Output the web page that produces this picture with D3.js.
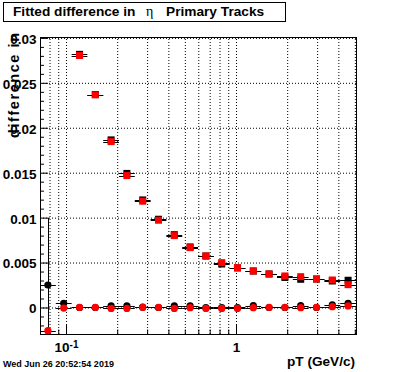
<!DOCTYPE html>
<html>
<head>
<meta charset="utf-8">
<script src="https://cdn.jsdelivr.net/npm/d3@7"></script>
<style>
  body { margin: 0; background: #fff; }
  svg { display: block; font-family: "Liberation Sans", Arial, Helvetica, sans-serif; }
</style>
</head>
<body>
<script>
'use strict';

// bin edges and bin centres in pT (GeV/c)
const binEdges = [0.0703, 0.0871, 0.1079, 0.1336, 0.1655, 0.2050, 0.2539, 0.3145, 0.3895, 0.4825,
    0.5976, 0.7402, 0.9168, 1.1356, 1.4066, 1.7422, 2.158, 2.673, 3.311, 4.101, 5.08];
const ptCenters = [0.0782, 0.0969, 0.1201, 0.1487, 0.1842, 0.2281, 0.2826, 0.350, 0.4335, 0.537,
    0.665, 0.824, 1.020, 1.264, 1.565, 1.939, 2.402, 2.975, 3.685, 4.564];

// upper pair (squares)
const blackSquares = [null, null, 0.02817, 0.0237, 0.01865, 0.01492, 0.01197, 0.00982, 0.0081, 0.00674,
    0.00573, 0.00484, 0.0044, 0.00406, 0.00373, 0.00334, 0.00314, 0.00317, 0.00295, 0.00303];
const redSquares = [null, null, 0.02804, 0.02366, 0.01846, 0.01468, 0.01183, 0.00971, 0.0080, 0.00666,
    0.00573, 0.00499, 0.00443, 0.00406, 0.00373, 0.00351, 0.00343, 0.00317, 0.00306, 0.00254];

// lower pair (circles)
const blackCircles = [0.0025, 0.00047, 0.0, 0.0, 0.00017, 0.00017, 0.00003, 0.0, 0.00017, 0.00017,
    0.0, 0.0, 0.0, 0.0002, 0.0, 0.0, 0.0002, 0.0, 0.00028, 0.00047];
const blackCircleErr = [0.0075, 0, 0, 0, 0, 0, 0, 0, 0, 0, 0, 0, 0, 0, 0, 0, 0, 0, 0, 0];
const redCircles = [-0.00258, -0.00006, 0.00002, 0.00002, -0.0001, -0.0001, 0.00002, 0.00002, -0.0001, -0.00002,
    -0.0001, -0.0001, -0.0001, -0.00002, 0.00002, 0.00002, -0.00002, 0.00002, 0.00009, 0.00017];

// ticks
const yMajorTicks = [0, 0.005, 0.01, 0.015, 0.02, 0.025, 0.03];
const yTickLabels = ["0", "0.005", "0.01", "0.015", "0.02", "0.025", "0.03"];
const xMajorTicks = [0.1, 1];
const xMinorTicks = [0.08, 0.09, 0.2, 0.3, 0.4, 0.5, 0.6, 0.7, 0.8, 0.9, 2, 3, 4, 5];

const width = 396;
const height = 372;
const frame = { left: 40, right: 356, top: 37, bottom: 334 };
const labelFont = "bold 13.5px 'Liberation Sans', Arial, sans-serif";

const svg = d3.select('body').append('svg')
    .attr('width', width)
    .attr('height', height);

svg.append('rect')
    .attr('width', width)
    .attr('height', height)
    .attr('fill', '#fff');

const xScale = d3.scaleLog()
    .domain([binEdges[0], binEdges[binEdges.length - 1]])
    .range([frame.left, frame.right]);

const yScale = d3.scaleLinear()
    .domain([-0.00295, 0.0301])
    .range([frame.bottom, frame.top]);

// dotted grid
let gx = svg.append('g')
    .attr('transform', `translate(0, ${frame.bottom})`)
    .call(d3.axisBottom(xScale)
        .tickValues(xMajorTicks.concat(xMinorTicks))
        .tickSize(-(frame.bottom - frame.top))
        .tickFormat(''));
let gy = svg.append('g')
    .attr('transform', `translate(${frame.left}, 0)`)
    .call(d3.axisLeft(yScale)
        .tickValues(yMajorTicks)
        .tickSize(-(frame.right - frame.left))
        .tickFormat(''));
[gx, gy].forEach((g) => {
    g.select('.domain').remove();
    g.selectAll('line')
        .attr('stroke', '#000')
        .attr('stroke-dasharray', '1,2');
});

// y axis: minor then major ticks, pointing into the frame
let yMinor = svg.append('g')
    .attr('transform', `translate(${frame.left}, 0)`)
    .call(d3.axisLeft(yScale)
        .tickValues(d3.range(-0.002, 0.0305, 0.001).filter((v) => Math.abs(v * 200 - Math.round(v * 200)) > 1e-6))
        .tickSize(-4)
        .tickFormat(''));
yMinor.select('.domain').remove();

let yAxis = svg.append('g')
    .attr('transform', `translate(${frame.left}, 0)`)
    .call(d3.axisLeft(yScale)
        .tickValues(yMajorTicks)
        .tickSizeInner(-8)
        .tickSizeOuter(0)
        .tickPadding(3.5)
        .tickFormat((d, i) => yTickLabels[i]));
yAxis.select('.domain').remove();
yAxis.selectAll('text')
    .style('font', labelFont)
    .attr('fill', '#000')
    .attr('dy', '0.4em');

// x axis (log): minor then major ticks
let xMinor = svg.append('g')
    .attr('transform', `translate(0, ${frame.bottom})`)
    .call(d3.axisBottom(xScale)
        .tickValues(xMinorTicks)
        .tickSize(-4.5)
        .tickFormat(''));
xMinor.select('.domain').remove();

let xAxis = svg.append('g')
    .attr('transform', `translate(0, ${frame.bottom})`)
    .call(d3.axisBottom(xScale)
        .tickValues(xMajorTicks)
        .tickSizeInner(-9)
        .tickSizeOuter(0)
        .tickPadding(8.7)
        .tickFormat((d) => d >= 1 ? '1' : '10'));
xAxis.select('.domain').remove();
xAxis.selectAll('text')
    .style('font', labelFont)
    .attr('fill', '#000')
    .each(function (d) {
        if (d < 1) {
            d3.select(this).append('tspan')
                .attr('dy', -4.5)
                .style('font-size', '10px')
                .text('-1');
        }
    });

// frame
svg.append('rect')
    .attr('x', frame.left + 0.5)
    .attr('y', frame.top + 0.5)
    .attr('width', frame.right - frame.left)
    .attr('height', frame.bottom - frame.top)
    .attr('fill', 'none')
    .attr('stroke', '#000');

// data, clipped to the frame
svg.append('clipPath').attr('id', 'frameClip')
    .append('rect')
    .attr('x', frame.left)
    .attr('y', frame.top)
    .attr('width', frame.right - frame.left + 1)
    .attr('height', frame.bottom - frame.top + 1);

const plot = svg.append('g').attr('clip-path', 'url(#frameClip)');

function drawSeries(values, errs, color, shape) {
    let pts = values.map((v, i) => ({ v: v, e: errs ? errs[i] : 0, i: i }))
        .filter((p) => p.v !== null);
    let g = plot.append('g');

    // bin-width bars
    g.selectAll('line.xerr').data(pts).join('line')
        .attr('x1', (p) => xScale(binEdges[p.i]))
        .attr('x2', (p) => xScale(binEdges[p.i + 1]))
        .attr('y1', (p) => Math.round(yScale(p.v)) + 0.5)
        .attr('y2', (p) => Math.round(yScale(p.v)) + 0.5)
        .attr('stroke', '#000');

    // vertical error bars (only where larger than the marker)
    g.selectAll('line.yerr').data(pts.filter((p) => p.e > 0)).join('line')
        .attr('x1', (p) => Math.round(xScale(ptCenters[p.i])) + 0.5)
        .attr('x2', (p) => Math.round(xScale(ptCenters[p.i])) + 0.5)
        .attr('y1', (p) => yScale(p.v - p.e))
        .attr('y2', (p) => yScale(p.v + p.e))
        .attr('stroke', '#000');

    if (shape === 'square') {
        g.selectAll('rect').data(pts).join('rect')
            .attr('x', (p) => xScale(ptCenters[p.i]) - 3.5)
            .attr('y', (p) => yScale(p.v) - 3.5)
            .attr('width', 7)
            .attr('height', 7)
            .attr('fill', color);
    } else {
        g.selectAll('circle').data(pts).join('circle')
            .attr('cx', (p) => xScale(ptCenters[p.i]))
            .attr('cy', (p) => yScale(p.v))
            .attr('r', 3.6)
            .attr('fill', color);
    }
}

drawSeries(blackSquares, null, '#000', 'square');
drawSeries(redSquares, null, '#ff0000', 'square');
drawSeries(blackCircles, blackCircleErr, '#000', 'circle');
drawSeries(redCircles, null, '#ff0000', 'circle');

// title box
svg.append('rect')
    .attr('x', 3.5)
    .attr('y', 2.5)
    .attr('width', 282)
    .attr('height', 19)
    .attr('fill', '#fff')
    .attr('stroke', '#000');

let title = svg.append('text')
    .attr('y', 15.7)
    .style('font', "bold 13.7px 'Liberation Sans', Arial, sans-serif")
    .attr('fill', '#000');
title.append('tspan').attr('x', 13).text('Fitted difference in');
title.append('tspan').attr('x', 146)
    .style('font', "14px 'Liberation Serif', 'DejaVu Serif', serif")
    .text('η');
title.append('tspan').attr('x', 166).text('Primary Tracks');

// axis titles
svg.append('text')
    .attr('x', 355)
    .attr('y', 365.5)
    .attr('text-anchor', 'end')
    .style('font', "bold 13.6px 'Liberation Sans', Arial, sans-serif")
    .text('pT (GeV/c)');

svg.append('text')
    .attr('transform', 'translate(19, 33) rotate(-90)')
    .attr('text-anchor', 'end')
    .attr('textLength', 105)
    .attr('lengthAdjust', 'spacing')
    .style('font', "bold 14.5px 'Liberation Sans', Arial, sans-serif")
    .text('difference in');

// date stamp
svg.append('text')
    .attr('x', 3)
    .attr('y', 366.5)
    .style('font', "bold 9px 'Liberation Sans', Arial, sans-serif")
    .text('Wed Jun 26 20:52:54 2019');
</script>
</body>
</html>
